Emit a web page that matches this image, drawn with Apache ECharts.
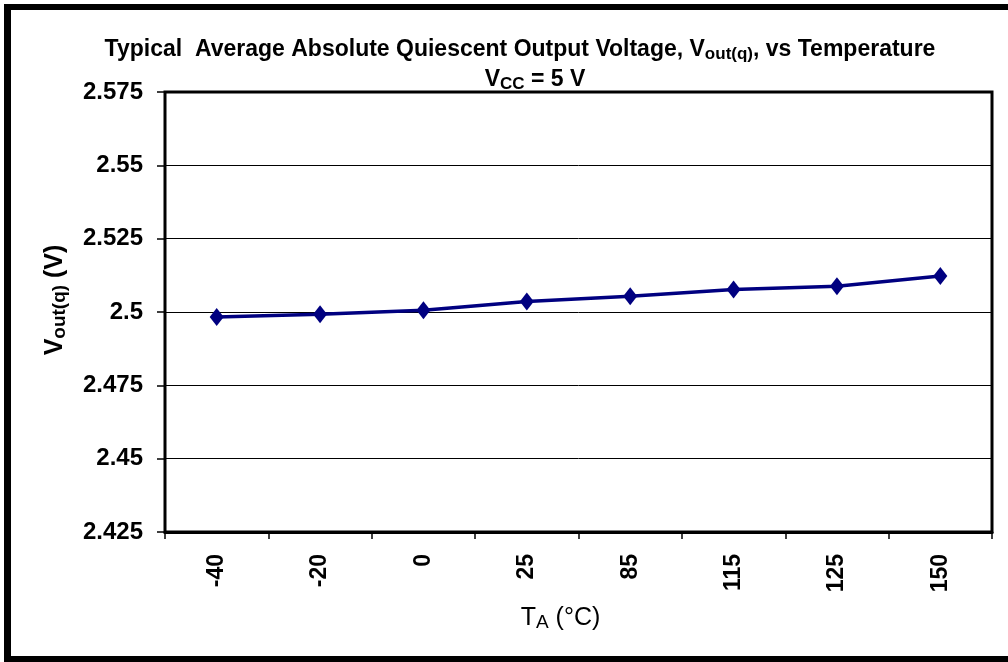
<!DOCTYPE html>
<html>
<head>
<meta charset="utf-8">
<script src="https://cdn.jsdelivr.net/npm/echarts@6/dist/echarts.min.js"></script>
<style>
  html, body { margin: 0; padding: 0; background: #fff; }
  #chart { width: 1008px; height: 662px; }
</style>
</head>
<body>
<div id="chart"></div>
<script>
// temperatures (°C) shown as categories
var temps = ["-40", "-20", "0", "25", "85", "115", "125", "150"];
// average quiescent output voltage (V)
var vout = [2.4983, 2.4992, 2.5006, 2.5036, 2.5054, 2.5077, 2.5088, 2.5123];
var yTicks = [2.425, 2.45, 2.475, 2.5, 2.525, 2.55, 2.575];

var font = "'Liberation Sans', Arial, sans-serif";

var chart = echarts.init(document.getElementById("chart"));

var option = {
  backgroundColor: "#fff",
  animation: false,
  title: [
    {
      text: "Typical  Average Absolute Quiescent Output Voltage, V{sub|out(q)}, vs Temperature",
      left: 515,
      top: 32,
      textAlign: "center",
      textStyle: {
        fontFamily: font,
        fontSize: 23,
        fontWeight: "bold",
        color: "#000",
        rich: {
          sub: { fontFamily: font, fontSize: 17, fontWeight: "bold", padding: [9, 0, 0, 0] }
        }
      }
    },
    {
      text: "V{sub|CC} = 5 V",
      left: 530,
      top: 62,
      textAlign: "center",
      textStyle: {
        fontFamily: font,
        fontSize: 23,
        fontWeight: "bold",
        color: "#000",
        rich: {
          sub: { fontFamily: font, fontSize: 17, fontWeight: "bold", padding: [9, 0, 0, 0] }
        }
      }
    }
  ],
  grid: {
    left: 165,
    right: 16,
    top: 92,
    bottom: 130,
    show: true,
    borderColor: "#000",
    borderWidth: 3
  },
  xAxis: {
    type: "category",
    data: temps,
    boundaryGap: true,
    name: "T{sub|A} (°C)",
    nameLocation: "middle",
    nameGap: 72,
    nameTextStyle: {
      fontFamily: font,
      fontSize: 25,
      color: "#000",
      padding: [0, 36, 0, 0],
      rich: {
        sub: { fontFamily: font, fontSize: 19, padding: [9, 0, 0, 0] }
      }
    },
    axisLine: { lineStyle: { color: "#000", width: 3 } },
    axisTick: { show: true, length: 7, inside: false, alignWithLabel: false, lineStyle: { color: "#000", width: 1.5 } },
    axisLabel: {
      rotate: 90,
      margin: 22,
      fontFamily: font,
      fontSize: 23,
      fontWeight: "bold",
      color: "#000"
    },
    splitLine: { show: false }
  },
  yAxis: {
    type: "value",
    min: yTicks[0],
    max: yTicks[yTicks.length - 1],
    interval: 0.025,
    name: "V{sub|out(q)} (V)",
    nameLocation: "middle",
    nameGap: 96,
    nameRotate: 90,
    nameTextStyle: {
      fontFamily: font,
      fontSize: 25,
      fontWeight: "bold",
      color: "#000",
      padding: [0, 0, 0, 24],
      rich: {
        sub: { fontFamily: font, fontSize: 19, fontWeight: "bold", padding: [9, 0, 0, 0] }
      }
    },
    axisLine: { show: true, lineStyle: { color: "#000", width: 2 } },
    axisTick: { show: true, length: 8, inside: false, lineStyle: { color: "#000", width: 1.5 } },
    axisLabel: {
      margin: 22,
      fontFamily: font,
      fontSize: 24,
      fontWeight: "bold",
      color: "#000",
      formatter: function (v) { return String(parseFloat(v.toFixed(3))); }
    },
    splitLine: { show: true, lineStyle: { color: "#000", width: 1 } }
  },
  series: [
    {
      type: "line",
      data: vout,
      symbol: "diamond",
      symbolSize: [14, 18],
      lineStyle: { color: "#000080", width: 3.5 },
      itemStyle: { color: "#000080" },
      z: 5
    }
  ],
  graphic: [
    { type: "rect", shape: { x: 4, y: 4, width: 1008, height: 6 }, style: { fill: "#000" } },
    { type: "rect", shape: { x: 4, y: 4, width: 7, height: 662 }, style: { fill: "#000" } },
    { type: "rect", shape: { x: 4, y: 656, width: 1008, height: 8 }, style: { fill: "#000" } }
  ]
};

chart.setOption(option);
</script>
</body>
</html>
